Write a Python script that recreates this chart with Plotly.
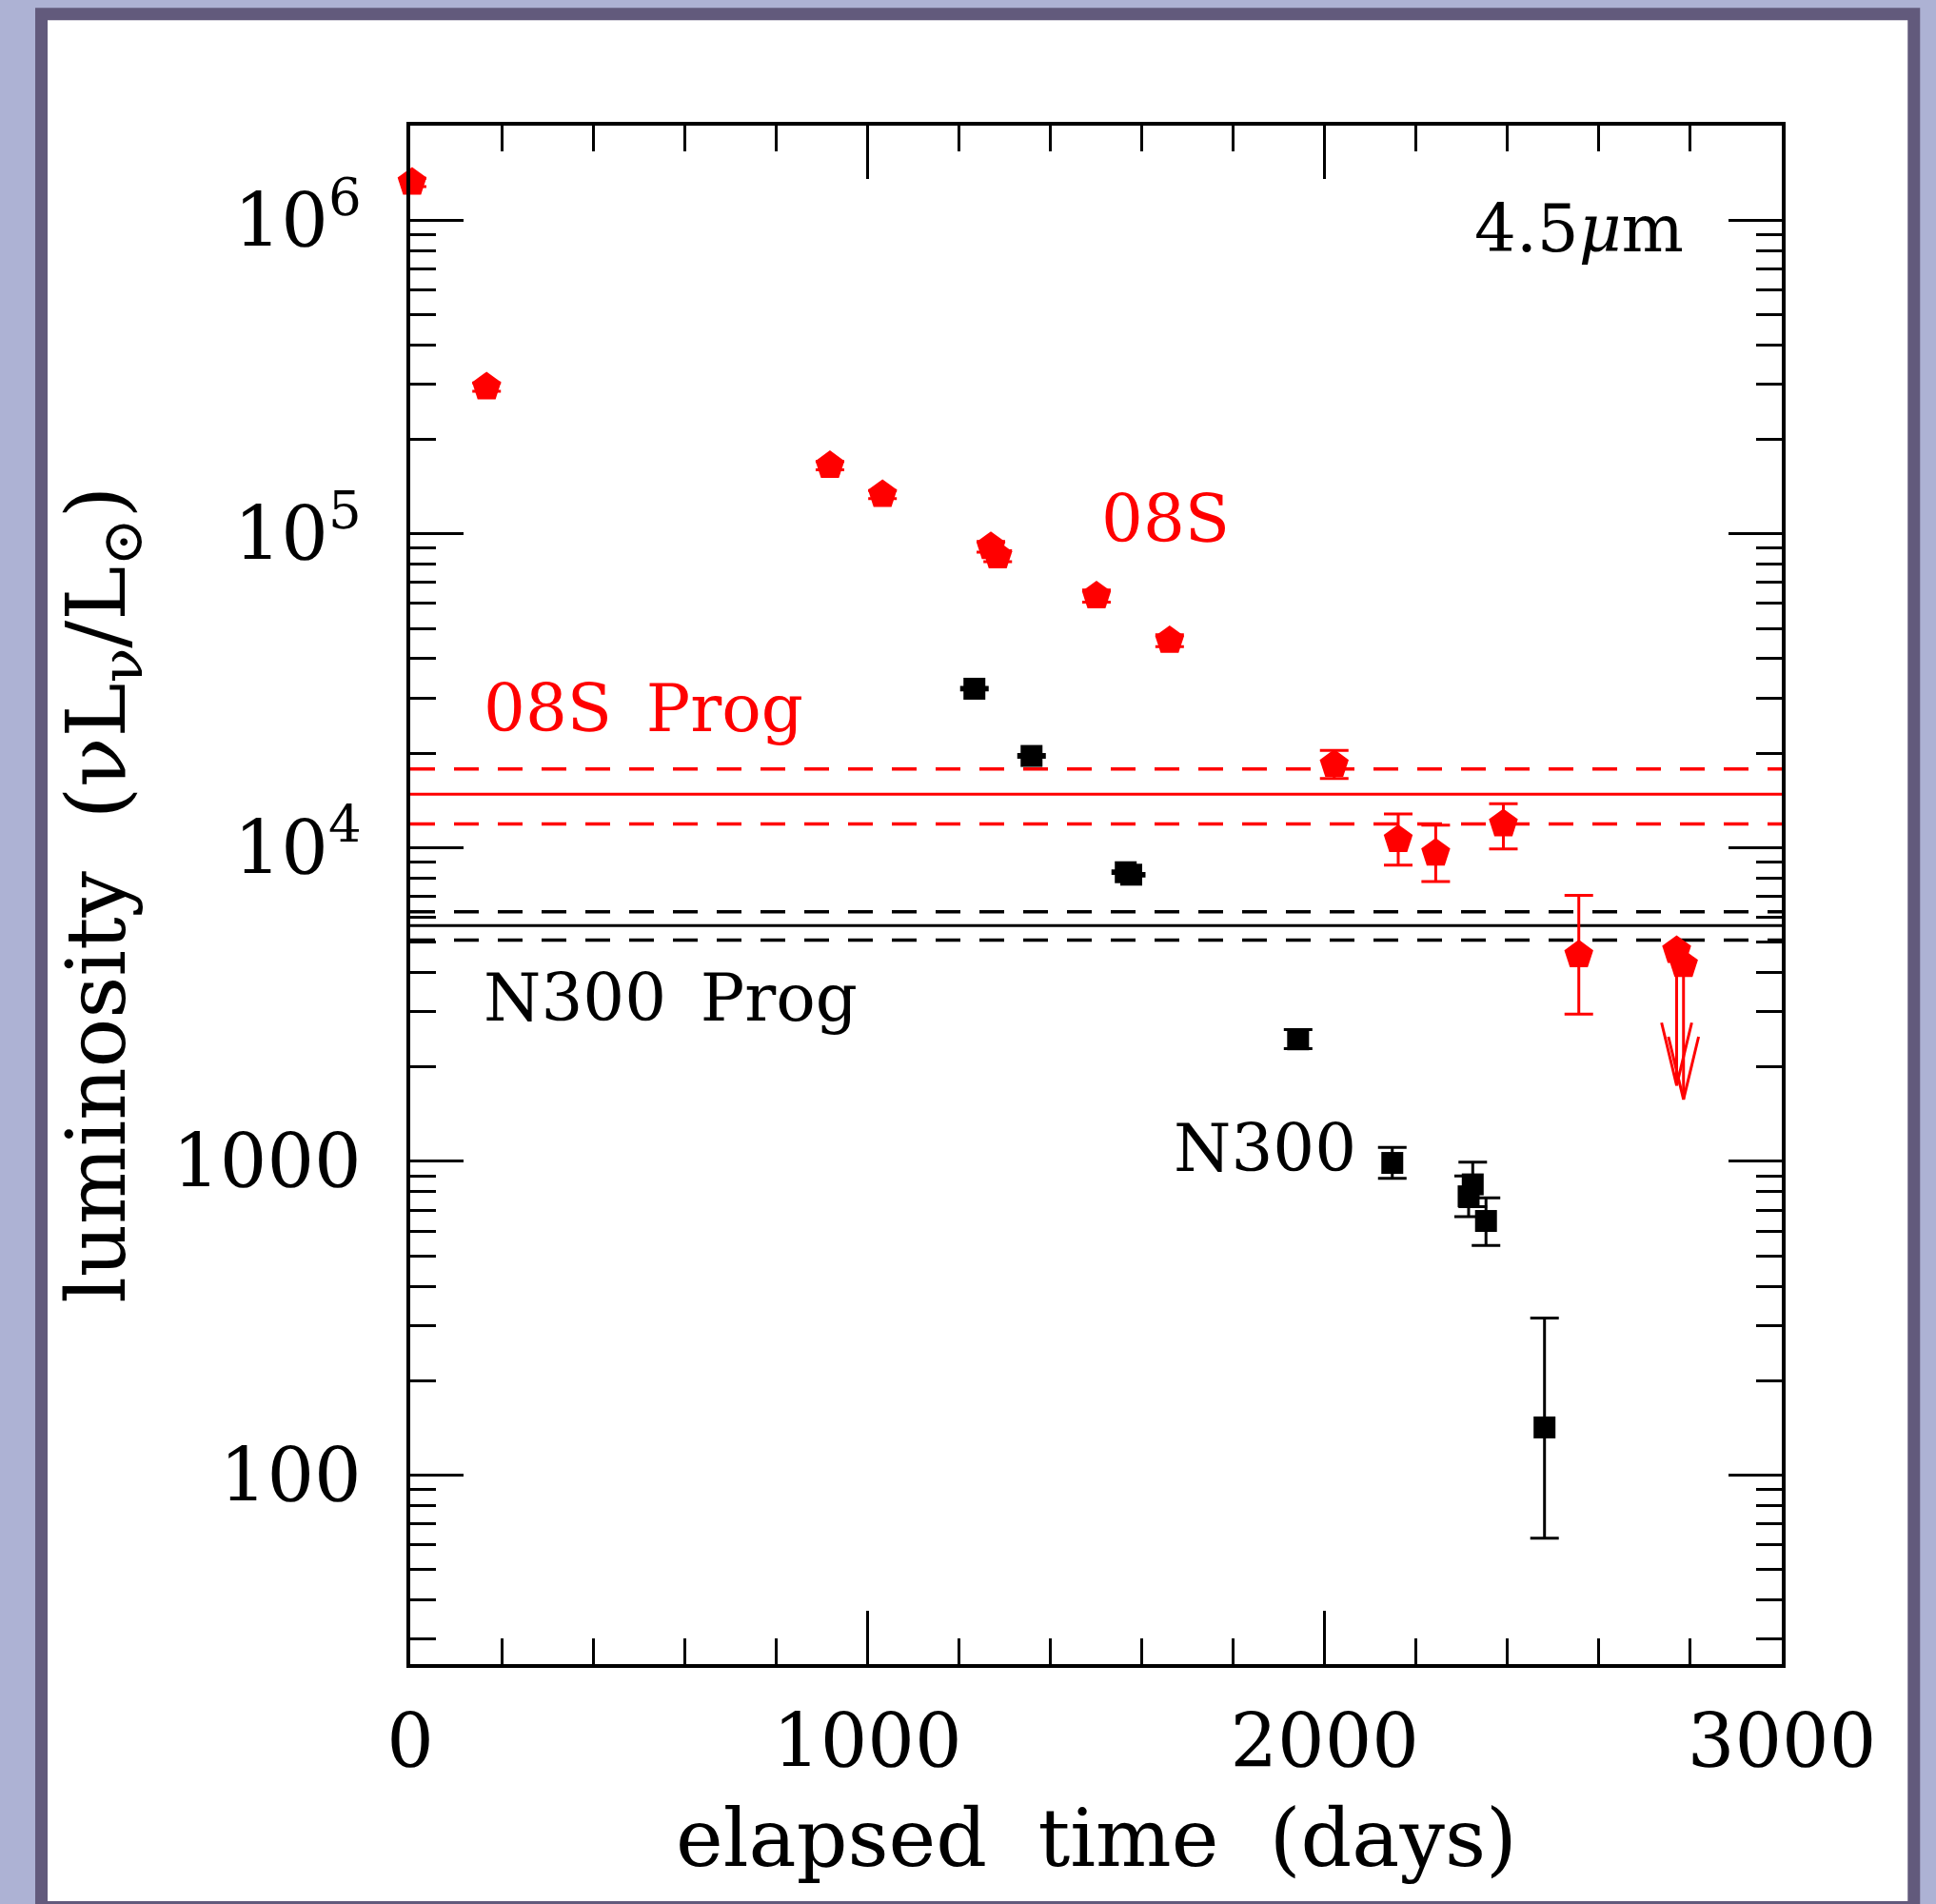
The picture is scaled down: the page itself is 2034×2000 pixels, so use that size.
import math
import plotly.graph_objects as go

# SN 2008S, 4.5 micron light curve (red pentagons)
days_08s = [4, 167, 918, 1033, 1270, 1285, 1501, 1661, 2021, 2161, 2243, 2391, 2556]
lum_08s = [1.32e6, 2.94e5, 1.65e5, 1.335e5, 9.1e4, 8.5e4, 6.34e4, 4.57e4,
           1.84e4, 1.06e4, 9.6e3, 1.19e4, 4.55e3]
err_hi_08s = [4.0e4, 9.0e3, 5.0e3, 4.0e3, 3.6e3, 3.4e3, 2.8e3, 2.0e3,
              2.0e3, 2.2e3, 2.2e3, 1.9e3, 2.5e3]
err_lo_08s = [4.0e4, 9.0e3, 5.0e3, 4.0e3, 3.6e3, 3.4e3, 2.8e3, 2.0e3,
              1.8e3, 1.8e3, 1.8e3, 2.0e3, 1.6e3]

# SN 2008S upper limits
days_08s_lim = [2770, 2785]
lum_08s_lim = [4.70e3, 4.24e3]

# NGC 300 OT2008-1 (black squares)
days_n300 = [1234, 1359, 1565, 1577, 1942, 2148, 2315, 2324, 2353, 2481]
lum_n300 = [3.21e4, 1.96e4, 8.35e3, 8.2e3, 2.45e3, 989, 774, 845, 646, 142]
err_hi_n300 = [300, 200, 80, 80, 180, 119, 125, 150, 119, 175]
err_lo_n300 = [300, 200, 80, 80, 160, 106, 107, 127, 106, 79]

# progenitor luminosities: central value, lower bound, upper bound
prog_08s = [1.48e4, 1.19e4, 1.78e4]
prog_n300 = [5.64e3, 5.07e3, 6.25e3]

# axis ticks
x_major = [0, 1000, 2000, 3000]
x_labels = ["0", "1000", "2000", "3000"]
y_major = [100, 1000, 1e4, 1e5, 1e6]
y_labels = ["100", "1000", "10<sup>4</sup>", "10<sup>5</sup>", "10<sup>6</sup>"]
y_minor = [k * 10 ** e for e in range(1, 7) for k in range(2, 10)]

X_RANGE = [0, 3000]
Y_RANGE = [math.log10(25), math.log10(2e6)]

RED = "#ff0000"
BLACK = "#000000"
FONT = "DejaVu Serif"

fig = go.Figure()

# progenitor levels
for vals, col in ((prog_08s, RED), (prog_n300, BLACK)):
    mid, lo, hi = vals
    fig.add_trace(go.Scatter(x=X_RANGE, y=[mid, mid], mode="lines",
                             line=dict(color=col, width=3), hoverinfo="skip"))
    for v in (lo, hi):
        fig.add_trace(go.Scatter(x=X_RANGE, y=[v, v], mode="lines",
                                 line=dict(color=col, width=3.5, dash="26px,20px"),
                                 hoverinfo="skip"))

# NGC 300 photometry
fig.add_trace(go.Scatter(
    x=days_n300, y=lum_n300, mode="markers", cliponaxis=False,
    marker=dict(symbol="square", size=23, color=BLACK),
    error_y=dict(type="data", symmetric=False, array=err_hi_n300,
                 arrayminus=err_lo_n300, color=BLACK, thickness=3, width=15),
))

# SN 2008S photometry
fig.add_trace(go.Scatter(
    x=days_08s, y=lum_08s, mode="markers", cliponaxis=False,
    marker=dict(symbol="pentagon", size=32, color=RED),
    error_y=dict(type="data", symmetric=False, array=err_hi_08s,
                 arrayminus=err_lo_08s, color=RED, thickness=3, width=15),
))

# SN 2008S upper limits with downward arrows
ARROW_DEX = 0.43
HEAD_DEX = 0.2
HEAD_HALF_DAYS = 33
arr_x, arr_y = [], []
for t, L in zip(days_08s_lim, lum_08s_lim):
    tip = L / 10 ** ARROW_DEX
    base = tip * 10 ** HEAD_DEX
    arr_x += [t, t, None, t - HEAD_HALF_DAYS, t, t + HEAD_HALF_DAYS, None]
    arr_y += [L, tip, None, base, tip, base, None]
fig.add_trace(go.Scatter(x=arr_x, y=arr_y, mode="lines",
                         line=dict(color=RED, width=3), hoverinfo="skip"))
fig.add_trace(go.Scatter(
    x=days_08s_lim, y=lum_08s_lim, mode="markers", cliponaxis=False,
    marker=dict(symbol="pentagon", size=32, color=RED),
))

axis_common = dict(
    showgrid=False, zeroline=False,
    showline=True, linecolor=BLACK, linewidth=3.5, mirror="allticks",
    ticks="inside", tickcolor=BLACK, tickwidth=3, ticklen=56,
    tickfont=dict(family=FONT, size=78, color=BLACK),
)

fig.update_layout(
    width=2034, height=2000, autosize=False,
    margin=dict(l=431, r=162, t=132, b=252, pad=0),
    paper_bgcolor="#adb2d4",
    plot_bgcolor="rgba(0,0,0,0)",
    showlegend=False,
    font=dict(family=FONT, color=BLACK),
    xaxis=dict(
        range=X_RANGE, tickmode="array", tickvals=x_major, ticktext=x_labels,
        ticklabelstandoff=11,
        minor=dict(dtick=200, tick0=0, ticks="inside", ticklen=27,
                   tickwidth=3, tickcolor=BLACK),
        **axis_common,
    ),
    yaxis=dict(
        type="log", range=Y_RANGE, tickmode="array", tickvals=y_major,
        ticktext=y_labels, ticklabelstandoff=32,
        minor=dict(tickmode="array", tickvals=y_minor, ticks="inside",
                   ticklen=27, tickwidth=3, tickcolor=BLACK),
        **axis_common,
    ),
)

# white panel with a dark border behind the plot
fig.add_shape(type="rect", xref="paper", yref="paper",
              x0=-0.2689, x1=1.0963, y0=-0.1581, y1=1.0726,
              fillcolor="white", line=dict(color="#625a7c", width=13),
              layer="below")

label_font = dict(family=FONT, size=69)
fig.add_annotation(x=1508, y=5.047, xref="x", yref="y", text="08S",
                   showarrow=False, xanchor="left", yanchor="middle",
                   font=dict(label_font, color=RED))
fig.add_annotation(x=157, y=4.445, xref="x", yref="y", text="08S\u00a0\u2009Prog",
                   showarrow=False, xanchor="left", yanchor="middle",
                   font=dict(label_font, color=RED))
fig.add_annotation(x=157, y=3.522, xref="x", yref="y", text="N300\u00a0\u2009Prog",
                   showarrow=False, xanchor="left", yanchor="middle",
                   font=dict(label_font, color=BLACK))
fig.add_annotation(x=2074, y=3.043, xref="x", yref="y", text="N300",
                   showarrow=False, xanchor="right", yanchor="middle",
                   font=dict(label_font, color=BLACK))
fig.add_annotation(x=2790, y=5.972, xref="x", yref="y", text="4.5<i>\u03bc</i>m",
                   showarrow=False, xanchor="right", yanchor="middle",
                   font=dict(label_font, color=BLACK))

# axis titles
fig.add_annotation(x=0.5, y=-0.113, xref="paper", yref="paper",
                   text="elapsed\u00a0\u00a0time\u00a0\u00a0(days)",
                   showarrow=False, xanchor="center", yanchor="middle",
                   font=dict(family=FONT, size=84, color=BLACK))
fig.add_annotation(x=-0.225, y=0.5, xref="paper", yref="paper",
                   text="luminosity\u00a0\u00a0(\u03bdL<sub>\u03bd</sub>/L<sub>\u2299</sub>)",
                   textangle=-90, showarrow=False, xanchor="center", yanchor="middle",
                   font=dict(family=FONT, size=86, color=BLACK))

fig.write_html("out.html")
